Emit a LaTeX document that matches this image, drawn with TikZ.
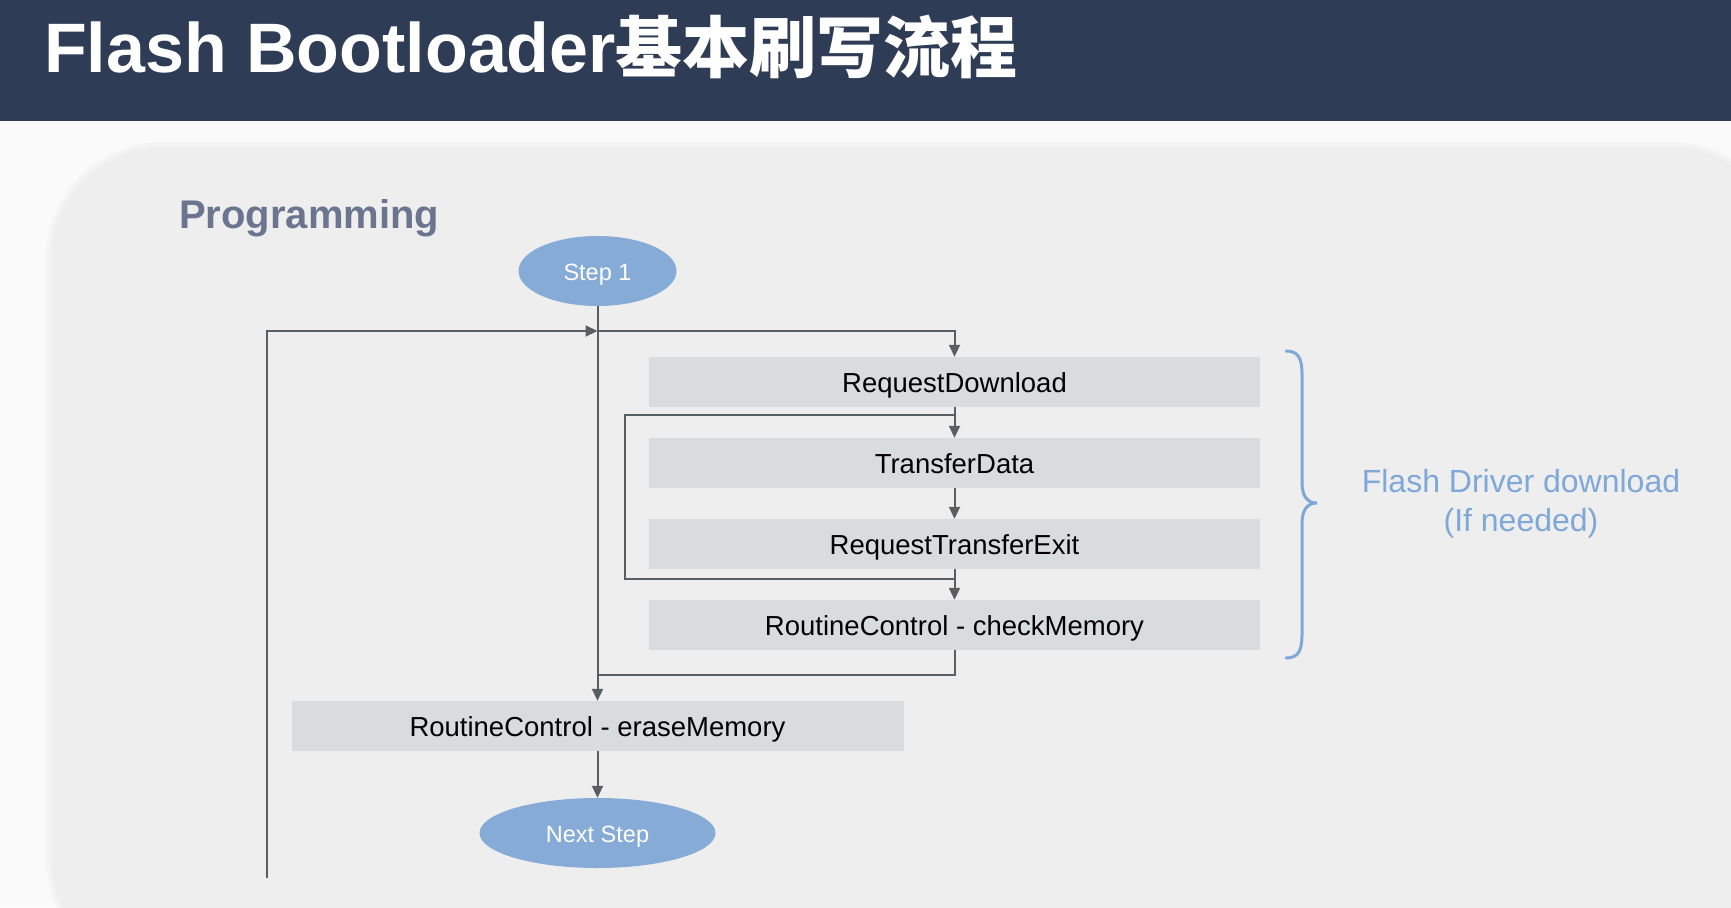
\documentclass[tikz,border=0pt]{standalone}
\usepackage{fontspec}
\setmainfont{Liberation Sans}
\newfontfamily\cjk{Noto Sans CJK SC}
\usetikzlibrary{shapes.geometric,arrows.meta}
\definecolor{hdr}{RGB}{46,60,85}
\definecolor{outerbg}{RGB}{250,250,250}
\definecolor{panel}{RGB}{238,238,238}
\definecolor{boxfill}{RGB}{217,220,223}
\definecolor{ellfill}{RGB}{133,171,214}
\definecolor{bluetxt}{RGB}{127,168,216}
\definecolor{conn}{RGB}{89,94,99}
\definecolor{subttl}{RGB}{107,117,144}
\tikzset{
  stepbox/.style={rectangle, fill=boxfill, draw=none, minimum height=50pt, inner sep=0pt,
    text height=20pt, text depth=0pt,
    font=\fontsize{27.5}{33}\selectfont, text=black},
  terminal/.style={ellipse, fill=ellfill, draw=none, minimum height=70pt, inner sep=0pt,
    text height=18pt, text depth=0pt,
    font=\fontsize{23.5}{28}\selectfont, text=white},
  flow/.style={draw=conn, line width=2pt, -{Triangle[length=12pt,width=11pt]}},
  plainline/.style={draw=conn, line width=2pt},
}
\begin{document}
\begin{tikzpicture}[x=1pt,y=-1pt]
\useasboundingbox (0,0) rectangle (1731,907);
% backgrounds
\fill[outerbg] (0,0) rectangle (1731,907);
\begin{scope}
\clip (0,0) rectangle (1731,907);
\fill[panel!40!outerbg, rounded corners=116pt] (46,142) rectangle (1788,973);
\fill[panel!75!outerbg, rounded corners=113pt] (49,145) rectangle (1785,970);
\fill[panel, rounded corners=110pt] (52,148) rectangle (1782,967);
\end{scope}
\fill[hdr] (0,0) rectangle (1731,121);
\node[anchor=base west, inner sep=0pt, text=white, font=\fontsize{70}{80}\selectfont\bfseries] (title) at (44,72) {Flash Bootloader{\cjk\bfseries\fontsize{67}{80}\selectfont 基本刷写流程}};
\node[anchor=base west, inner sep=0pt, text=subttl, font=\fontsize{40}{48}\selectfont\bfseries] (prog) at (179,228) {Programming};

% nodes
\node[terminal, minimum width=158pt] (step1) at (597.5,271) {Step 1};
\node[stepbox, minimum width=611pt] (rd) at (954.5,382) {RequestDownload};
\node[stepbox, minimum width=611pt] (td) at (954.5,463) {TransferData};
\node[stepbox, minimum width=611pt] (rte) at (954.5,544) {RequestTransferExit};
\node[stepbox, minimum width=611pt] (cm) at (954.5,625) {RoutineControl - checkMemory};
\node[stepbox, minimum width=612pt] (erase) at (597.5,726) {RoutineControl - eraseMemory};
\node[terminal, minimum width=236pt] (next) at (597.5,833) {Next Step};

% coordinates
\coordinate (j1) at (597.5,331);
\coordinate (j2) at (597.5,675);
\coordinate (lb) at (267,878);
\coordinate (l1) at (954.5,579);
\coordinate (l2) at (625,579);
\coordinate (l3) at (625,415);
\coordinate (l4) at (954.5,415);

% connectors
\draw[flow] (step1.south) -- (erase.north);
\draw[flow] (lb) |- (j1);
\draw[flow] (j1) -| (rd.north);
\draw[flow] (rd.south) -- (td.north);
\draw[flow] (td.south) -- (rte.north);
\draw[flow] (rte.south) -- (cm.north);
\draw[plainline] (l1) -- (l2) -- (l3) -- (l4);
\draw[plainline] (cm.south) |- (j2);
\draw[flow] (erase.south) -- (next.north);

% brace
\draw[bluetxt, line width=3pt, line cap=round]
  (1286,351) .. controls (1298,351) and (1302,358) .. (1302,374)
  -- (1302,482) .. controls (1302,496) and (1307,503) .. (1317,503)
  .. controls (1307,503) and (1302,510) .. (1302,524)
  -- (1302,635) .. controls (1302,651) and (1298,658) .. (1286,658);
\node[text=bluetxt, align=center, inner sep=0pt, font=\fontsize{32}{39}\selectfont] (fdd) at (1521,503.5) {Flash Driver download\\(If needed)};
\end{tikzpicture}
\end{document}
